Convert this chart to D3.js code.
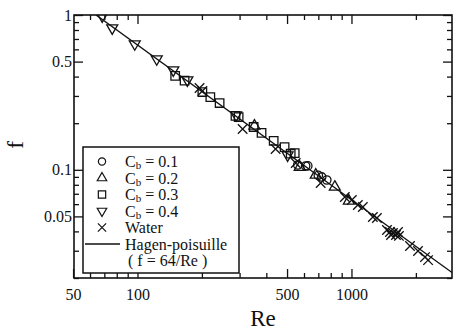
<!DOCTYPE html>
<html>
<head>
<meta charset="utf-8">
<script src="https://cdn.jsdelivr.net/npm/d3@7"></script>
<style>
  body { margin: 0; background: #fff; }
  svg text { font-family: "Liberation Serif", "Times New Roman", "DejaVu Serif", serif; fill: #111; }
</style>
</head>
<body>
<div id="chart"></div>
<script>
// Re and f, one pair of arrays per series
var reCb01 = [561, 611, 625, 700, 726, 767],
    fCb01 = [0.1074, 0.1058, 0.106, 0.092, 0.0899, 0.0859];

var reCb02 = [352, 573, 681, 836, 972],
    fCb02 = [0.192, 0.104, 0.0926, 0.0774, 0.0629];

var reCb03 = [150, 166, 201, 219, 242, 287, 297, 349, 380, 433, 487, 520, 543],
    fCb03 = [0.404, 0.377, 0.318, 0.295, 0.270, 0.223, 0.219, 0.189, 0.173, 0.154, 0.140, 0.127, 0.128];

var reCb04 = [68.4, 76.2, 97.1, 123, 147, 171, 289, 503],
    fCb04 = [0.985, 0.824, 0.650, 0.520, 0.441, 0.380, 0.226, 0.1246];

var reWater = [195, 201, 310, 442, 549, 718, 931, 1004, 1071, 1130, 1259, 1315,
               1465, 1513, 1530, 1563, 1614, 1650, 1667, 1877, 2046, 2207, 2280],
    fWater = [0.338, 0.323, 0.1835, 0.1363, 0.1106, 0.0822, 0.0667, 0.0638, 0.0592, 0.0575, 0.0495, 0.0488,
              0.0408, 0.0396, 0.0379, 0.0391, 0.0379, 0.0396, 0.0374, 0.0322, 0.0299, 0.0273, 0.0261];

// Hagen-Poiseuille line f = 64/Re
var lineRe = [64, 2950];

var xMajor = [50, 100, 500, 1000],
    xMinor = [60, 70, 80, 90, 200, 300, 400, 600, 700, 800, 900, 2000],
    yMajor = [1, 0.5, 0.1, 0.05],
    yMinor = [0.9, 0.8, 0.7, 0.6, 0.4, 0.3, 0.2, 0.09, 0.08, 0.07, 0.06, 0.04, 0.03, 0.02];

var legendLabels = ['0.1', '0.2', '0.3', '0.4'];

var serif = '"Liberation Serif", "Times New Roman", serif';

var width = 454, height = 330,
    margin = {top: 15, right: 2, bottom: 52, left: 74},
    w = width - margin.left - margin.right,
    h = height - margin.top - margin.bottom;

var x = d3.scaleLog().domain([50.5, 2950]).range([0, w]),
    y = d3.scaleLog().domain([0.02, 1]).range([h, 0]);

// custom marker shapes
var symbolTriDown = {
    draw: function(ctx, size) {
        var s = Math.sqrt(size / 0.433), r = s / Math.sqrt(3);
        ctx.moveTo(0, r);
        ctx.lineTo(s / 2, -r / 2);
        ctx.lineTo(-s / 2, -r / 2);
        ctx.closePath();
    }
};
var symbolTriUp = {
    draw: function(ctx, size) {
        var s = Math.sqrt(size / 0.433), r = s / Math.sqrt(3);
        ctx.moveTo(0, -r);
        ctx.lineTo(s / 2, r / 2);
        ctx.lineTo(-s / 2, r / 2);
        ctx.closePath();
    }
};
var symbolX = {
    draw: function(ctx, size) {
        var r = Math.sqrt(size) / 2;
        ctx.moveTo(-r, -r); ctx.lineTo(r, r);
        ctx.moveTo(-r, r); ctx.lineTo(r, -r);
    }
};

var series = [
    {re: reCb01, f: fCb01, type: d3.symbolCircle, size: 55},
    {re: reCb02, f: fCb02, type: symbolTriUp, size: 52},
    {re: reCb03, f: fCb03, type: d3.symbolSquare, size: 72},
    {re: reCb04, f: fCb04, type: symbolTriDown, size: 52},
    {re: reWater, f: fWater, type: symbolX, size: 90}
];

var svg = d3.select('#chart').append('svg')
    .attr('width', width)
    .attr('height', height);

var g = svg.append('g')
    .attr('transform', 'translate(' + margin.left + ',' + margin.top + ')');

g.append('clipPath').attr('id', 'clip')
  .append('rect').attr('width', w).attr('height', h);

// ticks, all pointing inwards
function drawAxis(axisFn, scale, values, size, transform, labels) {
    var ax = g.append('g')
        .attr('transform', transform)
        .call(axisFn(scale).tickValues(values).tickSize(size).tickPadding(labels ? 3 : 0)
            .tickFormat(labels ? function(d) { return d; } : ''));
    ax.attr('font-family', serif);
    ax.select('.domain').remove();
    ax.selectAll('line').attr('stroke', '#111').attr('stroke-width', 1.3);
    ax.selectAll('text').attr('font-size', 16).attr('fill', '#111')
        .attr('font-family', serif);
    return ax;
}

var bx = drawAxis(d3.axisBottom, x, xMajor, -9, 'translate(0,' + h + ')', true);
bx.selectAll('text').attr('dy', '1.4em').attr('y', 0);
drawAxis(d3.axisBottom, x, xMinor, -5, 'translate(0,' + h + ')', false);
drawAxis(d3.axisTop, x, xMajor.slice(1), -9, null, false);
drawAxis(d3.axisTop, x, xMinor, -5, null, false);

var ly = drawAxis(d3.axisLeft, y, yMajor, -9, null, true);
ly.selectAll('text').attr('x', -2);
drawAxis(d3.axisLeft, y, yMinor, -5, null, false);
drawAxis(d3.axisRight, y, yMajor, -9, 'translate(' + w + ',0)', false);
drawAxis(d3.axisRight, y, yMinor, -5, 'translate(' + w + ',0)', false);

g.append('rect')
    .attr('width', w).attr('height', h)
    .attr('fill', 'none').attr('stroke', '#111').attr('stroke-width', 1.6);

// theory line
var line = d3.line()
    .x(function(d) { return x(d); })
    .y(function(d) { return y(64 / d); });

g.append('path')
    .datum(lineRe)
    .attr('clip-path', 'url(#clip)')
    .attr('d', line)
    .attr('fill', 'none')
    .attr('stroke', '#111')
    .attr('stroke-width', 1.4);

// data markers
var plot = g.append('g').attr('clip-path', 'url(#clip)');
series.forEach(function(s) {
    var sym = d3.symbol().type(s.type).size(s.size);
    plot.append('g').selectAll('path')
        .data(d3.range(s.re.length))
      .enter().append('path')
        .attr('transform', function(i) {
            return 'translate(' + x(s.re[i]) + ',' + y(s.f[i]) + ')';
        })
        .attr('d', sym)
        .attr('fill', 'none')
        .attr('stroke', '#111')
        .attr('stroke-width', 1.3);
});

// legend
var legend = g.append('g').attr('transform', 'translate(9,132)');
legend.append('rect')
    .attr('width', 156).attr('height', 126)
    .attr('fill', '#fff').attr('stroke', '#111').attr('stroke-width', 1.5);

var rowH = 16.5, textX = 42, symX = 19, row0 = 14.5;
series.forEach(function(s, i) {
    var cy = row0 + i * rowH;
    legend.append('path')
        .attr('transform', 'translate(' + symX + ',' + cy + ')')
        .attr('d', d3.symbol().type(s.type).size(s.size * 0.75))
        .attr('fill', 'none').attr('stroke', '#111').attr('stroke-width', 1.2);
    var t = legend.append('text')
        .attr('x', textX).attr('y', cy + 5.5)
        .attr('font-family', serif)
        .attr('font-size', 16);
    if (i < 4) {
        t.append('tspan').text('C');
        t.append('tspan').attr('font-size', 11).attr('dy', 2).text('b');
        t.append('tspan').attr('dy', -2).text(' = ' + legendLabels[i]);
    } else {
        t.text('Water');
    }
});
var lineY = row0 + 5 * rowH;
legend.append('line')
    .attr('x1', 2).attr('x2', 37)
    .attr('y1', lineY).attr('y2', lineY)
    .attr('stroke', '#111').attr('stroke-width', 1.3);
legend.append('text')
    .attr('x', textX).attr('y', lineY + 5.5)
    .attr('font-family', serif)
    .attr('font-size', 16).text('Hagen-poisuille');
legend.append('text')
    .attr('x', textX + 3).attr('y', lineY + rowH + 5.5)
    .attr('font-family', serif)
    .attr('font-size', 16).text('( f = 64/Re )');

// axis titles
svg.append('text')
    .attr('x', 263).attr('y', 326)
    .attr('text-anchor', 'middle')
    .attr('font-family', serif)
    .attr('font-size', 23)
    .text('Re');

svg.append('text')
    .attr('transform', 'translate(23,145) rotate(-90)')
    .attr('text-anchor', 'middle')
    .attr('font-family', serif)
    .attr('font-size', 23)
    .text('f');
</script>
</body>
</html>
